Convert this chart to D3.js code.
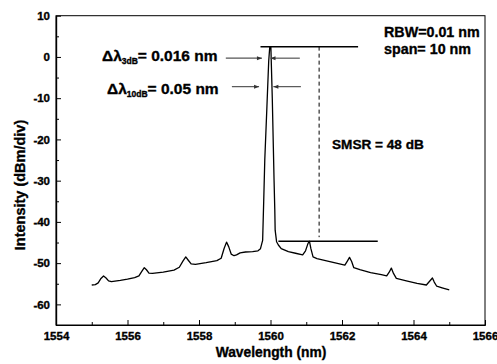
<!DOCTYPE html>
<html><head><meta charset="utf-8">
<script src="https://cdn.jsdelivr.net/npm/d3@7"></script>
<style>
html,body{margin:0;padding:0;background:#fff;}
svg{display:block;font-family:"Liberation Sans",Arial,sans-serif;font-weight:bold;}
svg text{font-family:"Liberation Sans",Arial,sans-serif !important;font-weight:bold !important;stroke:#000;stroke-width:0.35px;}
</style></head>
<body>
<svg id="c" width="497" height="364"></svg>
<script>
// Spectrum data (wavelength nm, intensity dBm)
const wavelength = [1555.00,1555.10,1555.18,1555.25,1555.33,1555.40,1555.47,1555.55,1555.8,1556.0,1556.2,1556.32,1556.40,1556.47,1556.53,1556.60,1556.7,1557.0,1557.3,1557.45,1557.55,1557.63,1557.70,1557.78,1557.9,1558.2,1558.5,1558.62,1558.70,1558.77,1558.83,1558.90,1558.98,1559.05,1559.15,1559.3,1559.5,1559.65,1559.72,1559.78,1559.81,1559.84,1559.90,1559.95,1559.98,1560.01,1560.05,1560.08,1560.10,1560.12,1560.13,1560.17,1560.22,1560.3,1560.5,1560.7,1560.9,1560.98,1561.05,1561.09,1561.13,1561.19,1561.3,1561.6,1561.9,1562.08,1562.15,1562.21,1562.27,1562.33,1562.5,1562.8,1563.1,1563.25,1563.32,1563.38,1563.44,1563.52,1563.8,1564.1,1564.36,1564.45,1564.53,1564.58,1564.65,1564.8,1565.0];
const intensity = [-55.3,-55.2,-54.8,-53.8,-53.1,-53.6,-54.3,-54.5,-54.2,-53.9,-53.5,-53.1,-52.0,-51.1,-51.6,-52.4,-52.5,-52.2,-51.7,-51.0,-49.5,-48.5,-49.3,-50.2,-50.3,-49.9,-49.4,-48.8,-46.5,-44.9,-46.0,-47.8,-48.2,-48.0,-47.5,-47.3,-47.2,-47.0,-46.5,-44.5,-35,-25,-12,-1,2.5,2.5,-10,-22,-30,-37,-42,-44.8,-45.6,-46.5,-47.2,-47.6,-48.0,-47.0,-45.2,-44.7,-46.5,-48.5,-48.9,-49.5,-50.1,-50.5,-49.5,-48.6,-49.6,-51.1,-51.6,-52.3,-52.8,-53.1,-52.2,-51.2,-52.5,-53.7,-54.3,-54.9,-55.3,-54.4,-53.6,-54.6,-55.6,-56.0,-56.5];

const xDomain = [1554, 1566];
const yDomain = [-65, 10];
const xTicks = [1554, 1556, 1558, 1560, 1562, 1564, 1566];
const xMinorTicks = [1555, 1557, 1559, 1561, 1563, 1565];
const yTicks = [-60, -50, -40, -30, -20, -10, 0, 10];
const yMinorTicks = [-65, -55, -45, -35, -25, -15, -5, 5];

// annotation geometry in data units
const peakLine = [1559.72, 1562.45, 2.5];     // x1, x2, level
const floorLine = [1560.22, 1563.0, -44.7];
const smsrDash = [1561.36, 2.5, -43.7];
const arrows3dB = [[1558.75, 1559.76, -0.3], [1560.82, 1560.0, -0.3]];
const arrows10dB = [[1558.92, 1559.68, -7.2], [1560.85, 1560.08, -7.2]];

const svg = d3.select("#c");
const x = d3.scaleLinear().domain(xDomain).range([56, 485]);
const y = d3.scaleLinear().domain(yDomain).range([325, 15.7]);
const fmt = d => String(d);

// frame
svg.append("rect").attr("x", 56).attr("y", 15.7).attr("width", 429).attr("height", 309.3)
  .attr("fill", "none").attr("stroke", "#000").attr("stroke-width", 1);

svg.append("g").attr("transform", "translate(0,325)")
  .call(d3.axisBottom(x).tickValues(xTicks).tickFormat(fmt).tickSizeInner(-5).tickSizeOuter(0).tickPadding(7));
svg.append("g").attr("transform", "translate(0,325)")
  .call(d3.axisBottom(x).tickValues(xMinorTicks).tickFormat("").tickSizeInner(-3).tickSizeOuter(0));
svg.append("g").attr("transform", "translate(56,0)")
  .call(d3.axisLeft(y).tickValues(yTicks).tickFormat(fmt).tickSizeInner(-5).tickSizeOuter(0).tickPadding(6));
svg.append("g").attr("transform", "translate(56,0)")
  .call(d3.axisLeft(y).tickValues(yMinorTicks).tickFormat("").tickSizeInner(-3).tickSizeOuter(0));
svg.selectAll(".domain").attr("stroke", "#000").attr("stroke-width", 1.2);
svg.selectAll(".tick line").attr("stroke", "#000");
svg.selectAll(".tick text").attr("font-size", 11.5).attr("fill", "#000");

// axis titles
svg.append("text").attr("x", 271).attr("y", 357).attr("text-anchor", "middle")
  .attr("font-size", 13.8).text("Wavelength (nm)");
svg.append("text").attr("transform", "translate(25,185) rotate(-90)").attr("text-anchor", "middle")
  .attr("font-size", 14.5).text("Intensity (dBm/div)");

// spectrum
const pts = wavelength.map((w, i) => [w, intensity[i]]);
svg.append("path").datum(pts)
  .attr("d", d3.line().x(d => x(d[0])).y(d => y(d[1])))
  .attr("fill", "none").attr("stroke", "#000").attr("stroke-width", 1.3).attr("stroke-linejoin", "round");

// annotations
svg.append("line").attr("x1", x(peakLine[0])).attr("x2", x(peakLine[1]))
  .attr("y1", y(peakLine[2])).attr("y2", y(peakLine[2])).attr("stroke", "#000").attr("stroke-width", 1.5);
svg.append("line").attr("x1", x(floorLine[0])).attr("x2", x(floorLine[1]))
  .attr("y1", y(floorLine[2])).attr("y2", y(floorLine[2])).attr("stroke", "#000").attr("stroke-width", 1.5);
svg.append("line").attr("x1", x(smsrDash[0])).attr("x2", x(smsrDash[0]))
  .attr("y1", y(smsrDash[1])).attr("y2", y(smsrDash[2])).attr("stroke", "#000").attr("stroke-width", 1)
  .attr("stroke-dasharray", "4,3");

const defs = svg.append("defs");
defs.append("marker").attr("id", "ah").attr("viewBox", "0 0 10 10").attr("refX", 10).attr("refY", 5)
  .attr("markerWidth", 6).attr("markerHeight", 5).attr("markerUnits", "userSpaceOnUse").attr("orient", "auto")
  .append("path").attr("d", "M0,1 L10,5 L0,9 Z").attr("fill", "#333");
[...arrows3dB, ...arrows10dB].forEach(a => {
  svg.append("line").attr("x1", x(a[0])).attr("x2", x(a[1])).attr("y1", y(a[2])).attr("y2", y(a[2]))
    .attr("stroke", "#555").attr("stroke-width", 1.2).attr("marker-end", "url(#ah)");
});

// text labels
function dl(xp, yp, sub, rest) {
  const t = svg.append("text").attr("x", xp).attr("y", yp).attr("font-size", 15.5);
  t.append("tspan").text("\u0394\u03bb");
  t.append("tspan").attr("font-size", 8.5).attr("dy", 3).text(sub);
  t.append("tspan").attr("dy", -3).text(rest);
}
dl(102, 61, "3dB", "= 0.016 nm");
dl(107, 94.3, "10dB", "= 0.05 nm");

svg.append("text").attr("x", 384).attr("y", 37.3).attr("font-size", 14.3).text("RBW=0.01 nm");
svg.append("text").attr("x", 384).attr("y", 54).attr("font-size", 14.3).text("span= 10 nm");
svg.append("text").attr("x", 332).attr("y", 149.3).attr("font-size", 13.6).text("SMSR = 48 dB");
</script>
</body></html>
